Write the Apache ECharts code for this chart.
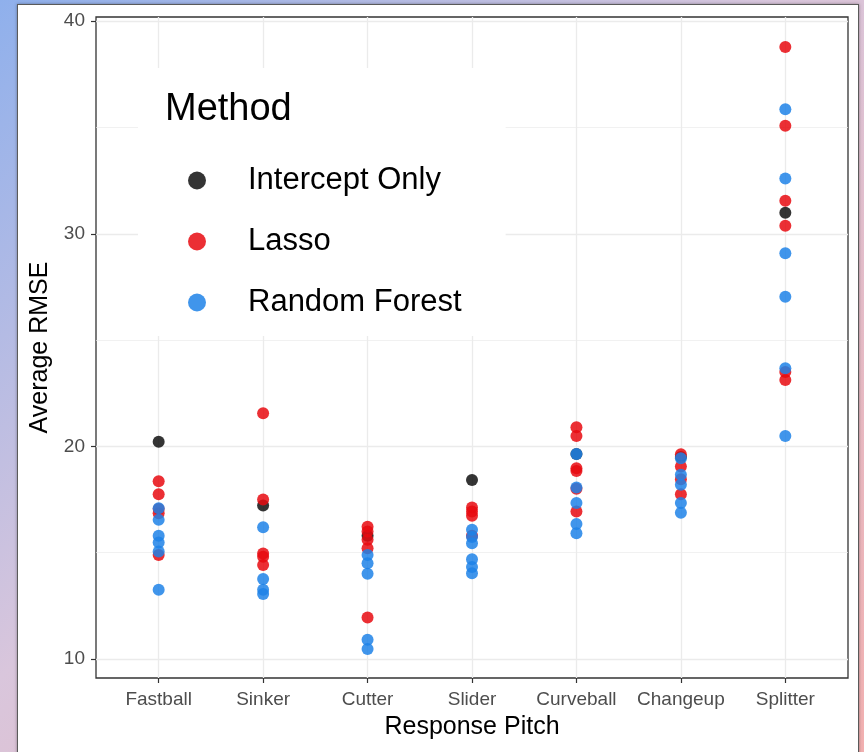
<!DOCTYPE html>
<html>
<head>
<meta charset="utf-8">
<script src="https://cdn.jsdelivr.net/npm/echarts@6/dist/echarts.min.js"></script>
<style>
  html, body { margin: 0; padding: 0; }
  body {
    width: 864px; height: 752px; overflow: hidden; position: relative;
    background: linear-gradient(to bottom right, #8fb0ec 0%, #d9c6dc 45%, #f2b0b0 100%);
  }
  #frame {
    position: absolute; left: 17px; top: 4px; width: 840px; height: 760px;
    background: #fff; border: 1px solid #5a5a5a; box-shadow: 0 0 3px rgba(0,0,0,0.35);
  }
  #chart { position: absolute; left: 0; top: 0; width: 864px; height: 752px; }
</style>
</head>
<body>
<div id="frame"></div>
<div id="chart"></div>
<script>
const pitches = ["Fastball", "Sinker", "Cutter", "Slider", "Curveball", "Changeup", "Splitter"];

// one value per pitch
const interceptOnly = [20.22, 17.22, 15.79, 18.42, 19.64, 19.5, 30.99];

// several values per pitch, in pitch order
const lasso = [
  [18.36, 17.75, 17.05, 16.85, 14.89],
  [21.56, 17.5, 14.96, 14.81, 14.42],
  [16.22, 15.99, 15.6, 15.2, 11.95],
  [17.12, 16.93, 16.73, 15.79],
  [20.9, 20.49, 18.97, 18.84, 18.0, 16.93],
  [19.63, 19.05, 18.45, 17.75],
  [38.79, 35.08, 31.55, 30.38, 23.5, 23.12]
];

const randomForest = [
  [17.09, 16.54, 15.79, 15.47, 15.05, 13.25],
  [16.19, 13.76, 13.25, 13.05],
  [14.89, 14.5, 14.0, 10.9, 10.46],
  [16.07, 15.73, 15.44, 14.69, 14.32, 14.03],
  [19.64, 18.06, 17.33, 16.35, 15.91],
  [19.44, 18.66, 18.19, 17.33, 16.88],
  [35.86, 32.6, 29.08, 27.04, 23.67, 20.49]
];

const yTicks = [10, 20, 30, 40];
const yMinorTicks = [15, 25, 35];
const xTicks = pitches.map((_, i) => i + 1);

const FONT = "Liberation Sans, Arial, sans-serif";
const GRID_COLOR = "#ebebeb";

function toPoints(groups) {
  const out = [];
  groups.forEach((values, i) => {
    values.forEach(v => out.push([i + 1, v]));
  });
  return out;
}

function pointSeries(name, color, data) {
  return {
    name,
    type: "scatter",
    symbol: "circle",
    symbolSize: 12,
    itemStyle: { color, opacity: 0.85 },
    data
  };
}

const chart = echarts.init(document.getElementById("chart"));

chart.setOption({
  animation: false,
  backgroundColor: "transparent",
  grid: {
    left: 96, right: 16, top: 17, bottom: 74,
    show: true,
    backgroundColor: "transparent",
    borderColor: "#333333",
    borderWidth: 1.3
  },
  xAxis: {
    type: "value",
    min: 0.4,
    max: 7.6,
    name: "Response Pitch",
    nameLocation: "middle",
    nameGap: 37,
    nameTextStyle: { fontFamily: FONT, fontSize: 25, color: "#000" },
    axisLine: { show: false },
    axisTick: { show: true, length: 5, customValues: xTicks, lineStyle: { color: "#333", width: 1.2 } },
    axisLabel: {
      customValues: xTicks,
      margin: 12,
      fontFamily: FONT,
      fontSize: 19,
      color: "#4d4d4d",
      formatter: v => pitches[Math.round(v) - 1] || ""
    },
    splitLine: { show: true, lineStyle: { color: GRID_COLOR, width: 1.3 } }
  },
  yAxis: [
    {
      type: "value",
      min: 9.1,
      max: 40.2,
      name: "Average RMSE",
      nameLocation: "middle",
      nameGap: 41,
      nameTextStyle: { fontFamily: FONT, fontSize: 25, color: "#000" },
      axisLine: { show: false },
      axisTick: { show: true, length: 5, customValues: yTicks, lineStyle: { color: "#333", width: 1.2 } },
      axisLabel: {
        customValues: yTicks,
        margin: 11,
        fontFamily: FONT,
        fontSize: 19,
        color: "#4d4d4d"
      },
      splitLine: { show: true, lineStyle: { color: GRID_COLOR, width: 1.3 } }
    },
    {
      type: "value",
      min: 9.1,
      max: 40.2,
      position: "left",
      axisLine: { show: false },
      axisTick: { show: false, customValues: yMinorTicks },
      axisLabel: { show: false, customValues: yMinorTicks },
      splitLine: { show: true, lineStyle: { color: GRID_COLOR, width: 0.7 } }
    }
  ],
  legend: {
    orient: "vertical",
    left: 138,
    top: 68,
    padding: [97, 44, 18, 50],
    backgroundColor: "#ffffff",
    itemGap: 30,
    itemWidth: 92,
    itemHeight: 18,
    icon: "circle",
    textStyle: { fontFamily: FONT, fontSize: 31, color: "#000" },
    data: ["Intercept Only", "Lasso", "Random Forest"]
  },
  graphic: [
    {
      type: "text",
      left: 165,
      top: 91,
      z: 100,
      style: { text: "Method", fontFamily: FONT, fontSize: 38, fill: "#000" }
    }
  ],
  series: [
    pointSeries("Intercept Only", "#111111", interceptOnly.map((v, i) => [i + 1, v])),
    pointSeries("Lasso", "#e80a10", toPoints(lasso)),
    pointSeries("Random Forest", "#1e82e8", toPoints(randomForest))
  ]
});

window.addEventListener("resize", () => chart.resize());
</script>
</body>
</html>
